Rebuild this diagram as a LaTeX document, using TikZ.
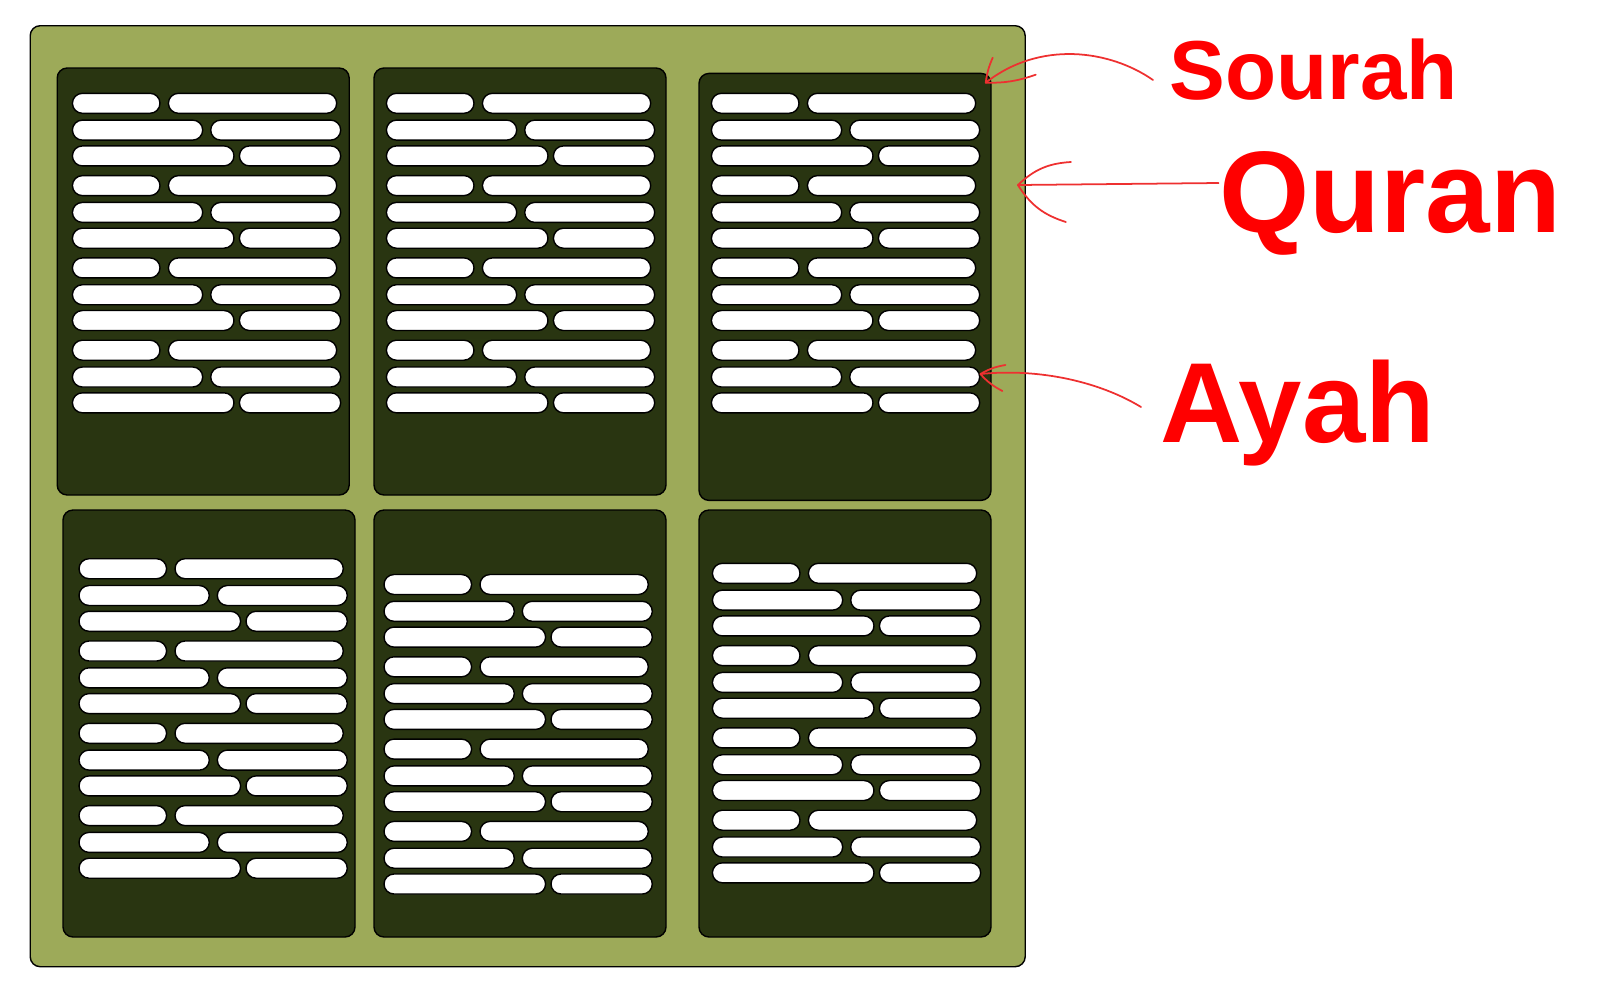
\documentclass[tikz,border=0pt]{standalone}
\usepackage{fontspec}
\setmainfont{Liberation Sans}
\definecolor{leaf}{HTML}{9DAA59}
\definecolor{bark}{HTML}{293511}
\definecolor{ink}{HTML}{FF0000}
\definecolor{penred}{HTML}{EE3030}
\tikzset{
  board/.style={draw=black,fill=leaf,rounded corners=1mm,line width=0.4pt,inner sep=0pt,anchor=north west},
  page/.style={draw=black,fill=bark,rounded corners=1mm,line width=0.4pt,inner sep=0pt,anchor=north west,minimum width=29.2mm,minimum height=42.7mm},
  verse/.style={draw=black,fill=white,rounded corners=1mm,line width=0.4pt,inner sep=0pt,anchor=west,minimum height=2mm},
  lbl/.style={text=ink,inner sep=0pt,anchor=base west},
  pen/.style={draw=penred,line width=0.5pt,line cap=round}}
\begin{document}
\begin{tikzpicture}[x=0.1mm,y=-0.1mm]
\useasboundingbox (0,0) rectangle (1612,1000);
\node[board,minimum width=99.5mm,minimum height=94.1mm] (mushaf) at (29.5,25) {};
\foreach \pg/\px/\py/\dx/\dy in {1/56.5/67.3/15.2/36,2/373.3/67.3/12.4/36,3/698.3/72.7/12.4/30.6,4/62.3/509.3/16/59.4,5/373.3/509.3/10/75.2,6/698.3/509.3/13.4/64}{
  \node[page] (p\pg) at (\px,\py) {};
  \foreach \g in {0,...,3}
    \foreach \r/\ry/\wl/\xr/\wr in {1/0/8.76/96/16.83,2/26.8/13.03/138.3/13.0,3/52.6/16.16/167/10.13}{
      \pgfmathtruncatemacro\n{3*\g+\r}
      \node[verse,minimum width=\wl mm] (p\pg-\n-l) at (\px+\dx,\py+\dy+\g*82.3+\ry) {};
      \node[verse,minimum width=\wr mm] (p\pg-\n-r) at (\px+\dx+\xr,\py+\dy+\g*82.3+\ry) {};
    }
}
\node[lbl,font=\bfseries\fontsize{23.8}{26}\selectfont] (sourah) at (1169,99.5) {Sourah};
\node[lbl,font=\bfseries\fontsize{33}{36}\selectfont] (quran) at (1218.6,232) {Quran};
\node[lbl,font=\bfseries\fontsize{32.4}{35}\selectfont] (ayah) at (1160,442) {Ayah};
\coordinate (sTail) at ([xshift=-1.6mm,yshift=1.95mm]sourah.base west);
\coordinate (sTip) at ([xshift=-0.6mm,yshift=-1mm]p3.north east);
\draw[pen] (sTail) .. controls (1110,50) and (1040,40) .. (sTip);
\draw[pen] (sTip) to[bend left=8] ++(7,-25) (sTip) to[bend right=10] ++(50,-8);
\coordinate (qTail) at ([yshift=4.9mm]quran.base west);
\path (mushaf.east |- qTail) ++(-8,2) coordinate (qTip);
\draw[pen] (qTail) -- (qTip);
\draw[pen] (qTip) to[bend left=20] ++(53,-23) (qTip) to[bend right=20] ++(48,37);
\coordinate (aTail) at ([xshift=-1.9mm,yshift=3.5mm]ayah.base west);
\coordinate (aTip) at ([yshift=0.3mm]p3-11-r.east);
\draw[pen] (aTail) .. controls (1100,382) and (1040,368) .. (aTip);
\draw[pen] (aTip) to[bend left=10] ++(25,-9) (aTip) to[bend right=10] ++(22,17);
\end{tikzpicture}
\end{document}
